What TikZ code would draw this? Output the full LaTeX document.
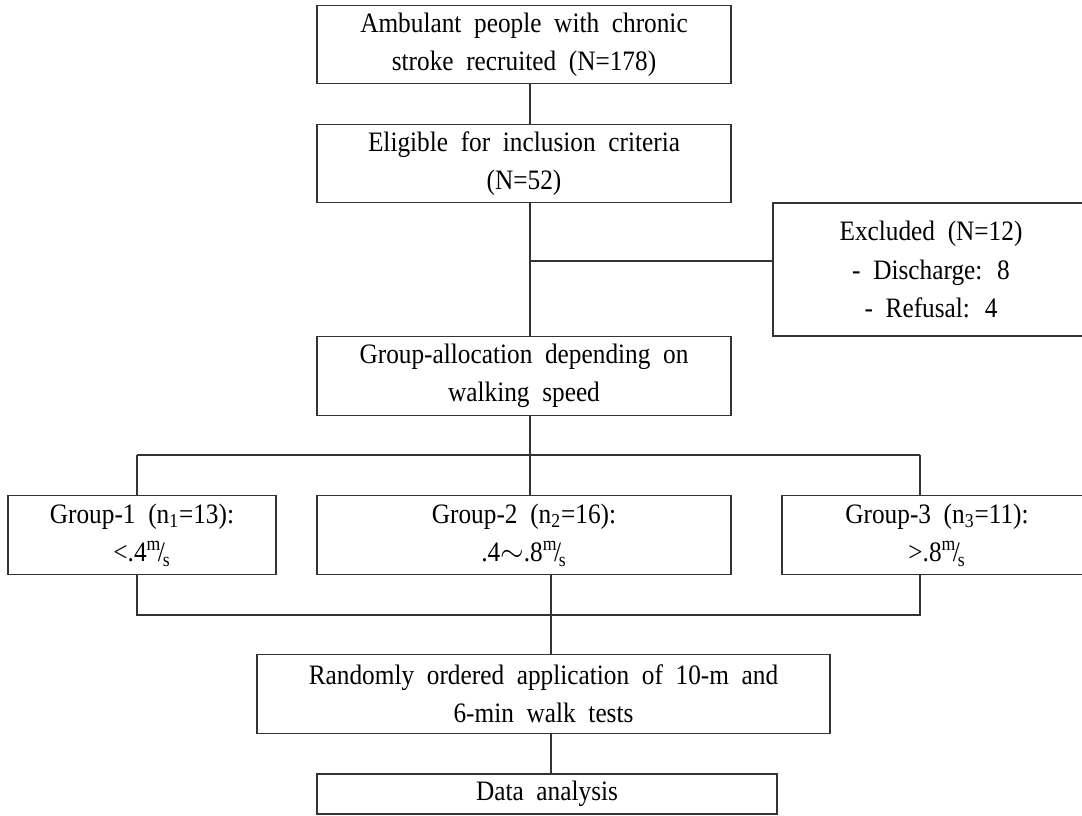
\documentclass[tikz,border=0pt]{standalone}
\usepackage{fontspec}
\setmainfont{Liberation Serif}[FakeStretch=0.9, WordSpace=2]
\usetikzlibrary{positioning,calc}
\newcommand{\mps}{\textsuperscript{m}\kern-0.12em/\kern-0.08em\textsubscript{s}}

\begin{document}
\begin{tikzpicture}[x=0.02cm, y=-0.02cm,
  box/.style={draw=black!80, line width=0.7pt, align=center, inner sep=0pt,
    minimum height=1.57cm, font=\fontsize{16}{21.8}\selectfont},
  link/.style={draw=black!80, line width=0.7pt}]
  \useasboundingbox (0,0) rectangle (1082,815);

  \node (recruit) [box, minimum width=8.28cm] at (524,44.5) {Ambulant people with chronic\\stroke recruited (N=178)};
  \node (eligible) [box, minimum width=8.28cm] at (524,163.5) {Eligible for inclusion criteria\\(N=52)};
  \node (excluded) [box, minimum width=6.32cm, minimum height=2.66cm] at (931,269.5) {Excluded (N=12)\\- Discharge: 8\\- Refusal: 4};
  \node (alloc) [box, minimum width=8.28cm] at (524,376) {Group-allocation depending on\\walking speed};
  \node (group1) [box, minimum width=5.36cm] at (142,535) {Group-1 (n\textsubscript{1}=13):\\<.4\mps};
  \node (group2) [box, minimum width=8.28cm] at (524,535) {Group-2 (n\textsubscript{2}=16):\\.4$\sim$.8\mps};
  \node (group3) [box, minimum width=6.2cm] at (937,535) {Group-3 (n\textsubscript{3}=11):\\>.8\mps};
  \node (tests) [box, minimum width=11.46cm] at (543.5,694) {Randomly ordered application of 10-m and\\6-min walk tests};
  \node (analysis) [box, minimum width=9.2cm, minimum height=0.8cm] at (547,794) {Data analysis};

  % junctions
  \coordinate (exj) at (530,261);
  \coordinate (s1) at (137,455);
  \coordinate (s2) at (530,455);
  \coordinate (s3) at (920,455);
  \coordinate (m1) at (137,615);
  \coordinate (m2) at (551,615);
  \coordinate (m3) at (920,615);

  \path [link]
  (s2 |- recruit.south) -- (s2 |- eligible.north)
  (s2 |- eligible.south) -- (s2 |- alloc.north)
  (exj) -- (exj -| excluded.west)
  (s2 |- alloc.south) -- (s2)
  (s1) -- (s3)
  (s1) -- (s1 |- group1.north)
  (s2) -- (s2 |- group2.north)
  (s3) -- (s3 |- group3.north)
  (m1 |- group1.south) -- (m1) -- (m3) -- (m3 |- group3.south)
  (m2 |- group2.south) -- (m2 |- tests.north)
  (m2 |- tests.south) -- (m2 |- analysis.north);
\end{tikzpicture}
\end{document}
